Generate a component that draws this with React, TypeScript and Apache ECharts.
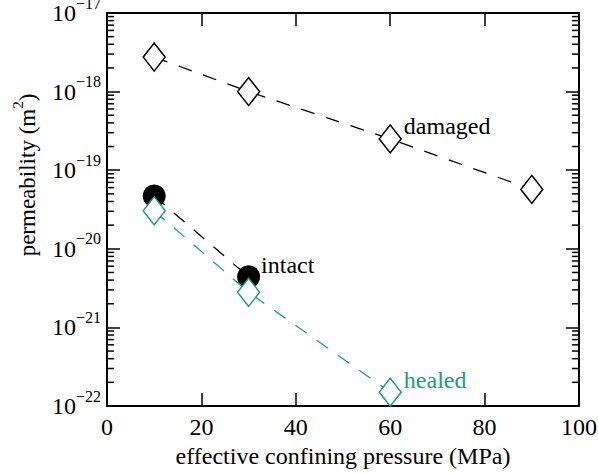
import React, { useEffect, useRef } from "react";
import * as echarts from "echarts";

const pressures = [10, 30, 60, 90];
const damaged = [2.75e-18, 1.0e-18, 2.5e-19, 5.7e-20];
const intactX = [10, 30];
const intact = [4.7e-20, 4.4e-21];
const healedX = [10, 30, 60];
const healed = [3.05e-20, 2.8e-21, 1.5e-22];
const decades = [-22, -21, -20, -19, -18];
const minorMultipliers = [2, 3, 4, 5, 6, 7, 8, 9];

const FONT = "'Liberation Serif', 'Times New Roman', Times, serif";
const GREEN = "#1b9e77";

export default function App() {
  const ref = useRef<HTMLDivElement>(null);
  useEffect(() => {
    if (!ref.current) return;
    const chart = echarts.init(ref.current, null, { renderer: "svg" });
    const minorData: number[][] = [];
    decades.forEach((d) =>
      minorMultipliers.forEach((m) => minorData.push([0, m * Math.pow(10, d)]))
    );
    const sup = (v: number) => {
      const e = Math.round(Math.log10(v));
      return `{b|10}{s|${e < 0 ? "\u2212" + -e : e}}`;
    };
    const yLabelRich = {
      b: { fontFamily: FONT, fontSize: 24, color: "#000" },
      s: { fontFamily: FONT, fontSize: 16, color: "#000", padding: [0, 0, 20, 0] },
    };
    const mkLine = () => ({ show: true, onZero: false, lineStyle: { color: "#000", width: 2 } });
    const mkTick = () => ({ show: true, inside: true, length: 13, lineStyle: { color: "#000", width: 1.5 } });
    const option: any = {
      animation: false,
      backgroundColor: "#fff",
      grid: { left: 107, right: 19, top: 13, bottom: 67, containLabel: false, outerBoundsMode: "none" },
      xAxis: [
        {
          type: "value",
          min: 0,
          max: 100,
          interval: 20,
          position: "bottom",
          splitLine: { show: false },
          axisLine: mkLine(),
          axisTick: mkTick(),
          axisLabel: { fontFamily: FONT, fontSize: 24, color: "#000", margin: 9, hideOverlap: false },
          name: "effective confining pressure (MPa)",
          nameLocation: "middle",
          nameGap: 37,
          nameTextStyle: { fontFamily: FONT, fontSize: 24, color: "#000" },
        },
        {
          type: "value",
          min: 0,
          max: 100,
          interval: 20,
          position: "top",
          splitLine: { show: false },
          axisLine: mkLine(),
          axisTick: mkTick(),
          axisLabel: { show: false },
        },
      ],
      yAxis: [
        {
          type: "log",
          logBase: 10,
          position: "left",
          splitLine: { show: false },
          axisLine: mkLine(),
          axisTick: mkTick(),
          axisLabel: {
            formatter: (v: number) => sup(v),
            rich: yLabelRich,
            margin: 6,
            showMinLabel: true,
            showMaxLabel: true,
            hideOverlap: false,
          },
        },
        {
          type: "log",
          logBase: 10,
          position: "right",
          splitLine: { show: false },
          axisLine: mkLine(),
          axisTick: mkTick(),
          axisLabel: { show: false },
        },
      ],
      graphic: [
        {
          type: "text",
          x: 27,
          y: 175,
          rotation: Math.PI / 2,
          style: {
            text: "{n|permeability (m}{s|2}{n|)}",
            align: "center",
            verticalAlign: "middle",
            rich: {
              n: { fontFamily: FONT, fontSize: 23, fill: "#000" },
              s: { fontFamily: FONT, fontSize: 15, fill: "#000", padding: [0, 0, 18, 0] },
            },
          },
        },
      ],
      series: [
        {
          type: "custom",
          silent: true,
          xAxisIndex: 1,
          yAxisIndex: 1,
          data: minorData,
          renderItem: (params: any, api: any) => {
            const v = api.value(1);
            const p = api.coord([0, v]);
            const q = api.coord([100, v]);
            const st = { stroke: "#000", lineWidth: 1.5 };
            return {
              type: "group",
              children: [
                { type: "line", shape: { x1: p[0], y1: p[1], x2: p[0] + 7, y2: p[1] }, style: st },
                { type: "line", shape: { x1: q[0] - 7, y1: q[1], x2: q[0], y2: q[1] }, style: st },
              ],
            };
          },
        },
        {
          name: "damaged",
          type: "line",
          xAxisIndex: 0,
          yAxisIndex: 0,
          data: pressures.map((x, i) => [x, damaged[i]]),
          symbol: "diamond",
          symbolSize: [22, 28],
          lineStyle: { color: "#000", width: 1.3, type: [14, 12] },
          itemStyle: { color: "#fff", borderColor: "#000", borderWidth: 1.5 },
          label: {
            show: true,
            position: "right",
            distance: 2,
            offset: [0, -13],
            fontFamily: FONT,
            fontSize: 24,
            color: "#000",
            formatter: (p: any) => (p.dataIndex === 2 ? "damaged" : ""),
          },
          z: 3,
        },
        {
          name: "intact",
          type: "line",
          xAxisIndex: 0,
          yAxisIndex: 0,
          data: intactX.map((x, i) => [x, intact[i]]),
          symbol: "circle",
          symbolSize: 23,
          lineStyle: { color: "#000", width: 1.3, type: [14, 12] },
          itemStyle: { color: "#000", borderColor: "#000", borderWidth: 0 },
          label: {
            show: true,
            position: "right",
            distance: 1,
            offset: [0, -12],
            fontFamily: FONT,
            fontSize: 24,
            color: "#000",
            formatter: (p: any) => (p.dataIndex === 1 ? "intact" : ""),
          },
          z: 3,
        },
        {
          name: "healed",
          type: "line",
          xAxisIndex: 0,
          yAxisIndex: 0,
          data: healedX.map((x, i) => [x, healed[i]]),
          symbol: "diamond",
          symbolSize: [22, 28],
          lineStyle: { color: GREEN, width: 1.3, type: [14, 12] },
          itemStyle: { color: "#fff", borderColor: GREEN, borderWidth: 1.5 },
          label: {
            show: true,
            position: "right",
            distance: 2,
            offset: [0, -12],
            fontFamily: FONT,
            fontSize: 24,
            color: GREEN,
            formatter: (p: any) => (p.dataIndex === 2 ? "healed" : ""),
          },
          z: 4,
        },
      ],
    };
    chart.setOption(option);
    return () => chart.dispose();
  }, []);
  return <div ref={ref} style={{ width: 598, height: 473, position: "absolute", left: 0, top: 0 }} />;
}
